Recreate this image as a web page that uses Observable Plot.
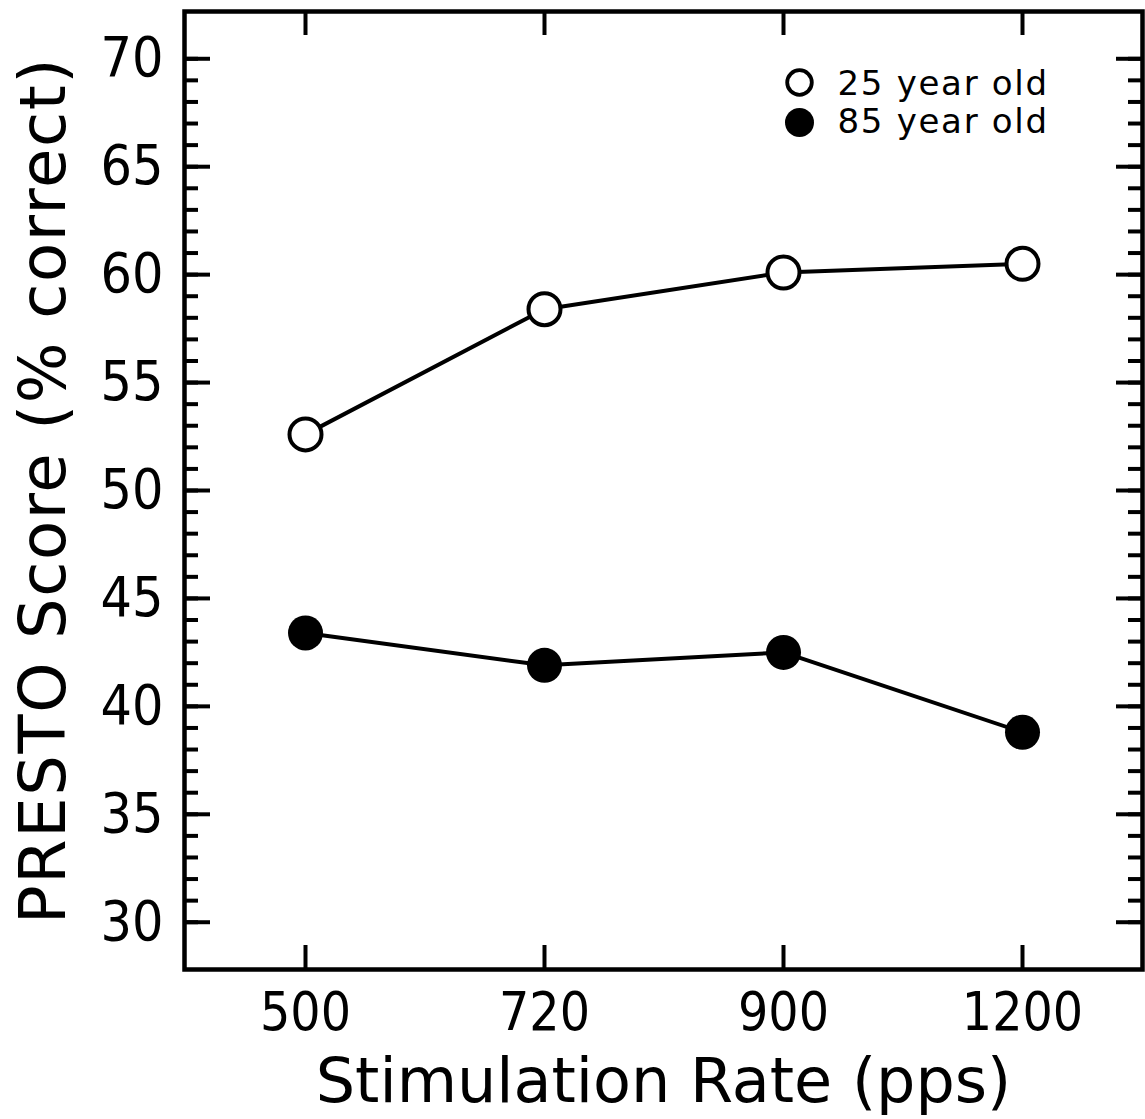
<!DOCTYPE html>
<html><head><meta charset="utf-8">
<script src="https://cdn.jsdelivr.net/npm/d3@7"></script>
<script src="https://cdn.jsdelivr.net/npm/@observablehq/plot@0.6"></script>
<style>body{margin:0;background:#fff}</style>
</head><body><div id="chart"></div>
<script>
const rates = ["500", "720", "900", "1200"];
const young = [52.6, 58.4, 60.1, 60.5];
const old = [43.4, 41.9, 42.5, 38.8];
const seriesNames = ["25 year old", "85 year old"];
const yTicks = [30, 35, 40, 45, 50, 55, 60, 65, 70];
const yMinor = d3.range(30, 71);
const xTitle = "Stimulation Rate (pps)";
const yTitle = "PRESTO Score (% correct)";

const youngData = rates.map((r, i) => ({rate: r, score: young[i], group: seriesNames[0]}));
const oldData = rates.map((r, i) => ({rate: r, score: old[i], group: seriesNames[1]}));
const data = youngData.concat(oldData);

const W = 1145, H = 1119, mL = 184, mT = 11, mR = 3, mB = 150;
const fw = W - mL - mR, fh = H - mT - mB;
const font = "DejaVu Sans";
const tickFont = "'DejaVu Sans Condensed', 'DejaVu Sans'";
const ink = {stroke: "black", strokeWidth: 4};

const plot = Plot.plot({
  width: W, height: H,
  marginLeft: mL, marginTop: mT, marginRight: mR, marginBottom: mB,
  style: {fontFamily: font, background: "white", color: "black"},
  x: {type: "point", domain: rates, padding: 0.5},
  y: {domain: [27.81, 72.19]},
  marks: [
    Plot.tickY(yMinor, {y: d => d, insetRight: fw - 14, ...ink}),
    Plot.tickY(yMinor, {y: d => d, insetLeft: fw - 14, ...ink}),
    Plot.tickY(yTicks, {y: d => d, insetRight: fw - 26, ...ink}),
    Plot.tickY(yTicks, {y: d => d, insetLeft: fw - 26, ...ink}),
    Plot.tickX(rates, {x: d => d, insetBottom: fh - 24, ...ink}),
    Plot.tickX(rates, {x: d => d, insetTop: fh - 24, ...ink}),
    Plot.frame({stroke: "black", strokeWidth: 4.5}),
    Plot.axisY(yTicks, {tickSize: 0, tickPadding: 21, fontSize: 55, fontFamily: tickFont, label: null}),
    Plot.axisX(rates, {tickSize: 0, tickPadding: 23, fontSize: 53, fontFamily: tickFont, label: null}),
    Plot.text([xTitle], {text: d => d, frameAnchor: "bottom", dy: 113, fontSize: 62, textAnchor: "middle", lineAnchor: "middle"}),
    Plot.text([yTitle], {text: d => d, frameAnchor: "left", dx: -139.5, rotate: -90, fontSize: 64, textAnchor: "middle", lineAnchor: "middle"}),
    Plot.line(data, {x: "rate", y: "score", z: "group", stroke: "black", strokeWidth: 4}),
    Plot.dot(youngData, {x: "rate", y: "score", r: 16, fill: "white", stroke: "black", strokeWidth: 4}),
    Plot.dot(oldData, {x: "rate", y: "score", r: 17.5, fill: "black"}),
    Plot.dot([seriesNames[0]], {frameAnchor: "top-left", dx: 615, dy: 71, r: 12.3, fill: "white", stroke: "black", strokeWidth: 3.8}),
    Plot.dot([seriesNames[1]], {frameAnchor: "top-left", dx: 615, dy: 111, r: 14.5, fill: "black"}),
    Plot.text([seriesNames[0]], {text: d => d, frameAnchor: "top-left", dx: 653, dy: 73, textAnchor: "start", lineAnchor: "middle", fontSize: 34}),
    Plot.text([seriesNames[1]], {text: d => d, frameAnchor: "top-left", dx: 653, dy: 111, textAnchor: "start", lineAnchor: "middle", fontSize: 34})
  ]
});
plot.querySelectorAll("text").forEach(t => {
  if (seriesNames.includes(t.textContent)) t.style.letterSpacing = "1.7px";
  if (t.textContent === yTitle) t.style.letterSpacing = "1.6px";
});
document.getElementById("chart").appendChild(plot);
</script>
</body></html>
